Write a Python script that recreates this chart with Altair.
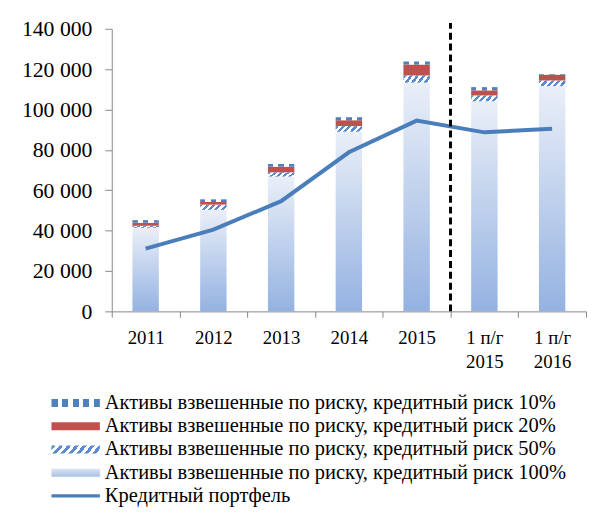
import altair as alt
import pandas as pd

# ---- data ----
cats = ["2011", "2012", "2013", "2014", "2015", "1 п/г\n2015", "1 п/г\n2016"]
risk100 = [41400, 50300, 66800, 89000, 113300, 104100, 111600]
risk50 = [1000, 2600, 2100, 2800, 3600, 2900, 2800]
risk20 = [1500, 1300, 2800, 2900, 5400, 2500, 2900]
risk10 = [1300, 1300, 1300, 1500, 1500, 1600, 300]
loans = [31100, 40500, 54600, 78800, 94500, 88700, 90500]
divider_after = "2015"
divider_top = 142900
y_ticks = [0, 20000, 40000, 60000, 80000, 100000, 120000, 140000]

legend_labels = [
    "Активы взвешенные по риску, кредитный риск 10%",
    "Активы взвешенные по риску, кредитный риск 20%",
    "Активы взвешенные по риску, кредитный риск 50%",
    "Активы взвешенные по риску, кредитный риск 100%",
    "Кредитный портфель",
]
legend_keys = ["10", "20", "50", "100", "loan"]

# ---- styles ----
FONT = "Liberation Serif"
AX = "#868686"
BLUE = "#4F81BD"
STRIPE50 = "#5A8AD0"
RED = "#C0504D"
LINE = "#4A7EBB"
WHITE = "#FFFFFF"


def seg_gradient(segments, x2, y2):
    total = float(sum(w for _, w in segments))
    stops = []
    pos = 0.0
    for c, w in segments:
        stops.append(alt.GradientStop(color=c, offset=round(pos / total, 4)))
        pos += w
        stops.append(alt.GradientStop(color=c, offset=round(min(pos / total, 1.0), 4)))
    return alt.Gradient(gradient="linear", stops=stops, x1=0, y1=0, x2=x2, y2=y2)


def diag(n, k, c):
    s = (1 + k) / (1 + k * k)
    segs = []
    for i in range(n):
        segs.append((c, 1))
        segs.append((WHITE, 1))
    return seg_gradient(segs, round(s, 4), round(s * k, 4))


grad100 = alt.Gradient(
    gradient="linear",
    stops=[alt.GradientStop(color="#EAEFF8", offset=0), alt.GradientStop(color="#94B2E1", offset=1)],
    x1=0, y1=0, x2=0, y2=1,
)
grad10 = seg_gradient([(BLUE, 1), (WHITE, 1), (BLUE, 1), (WHITE, 1), (BLUE, 1)], 1, 0)
grad50 = diag(5, 0.2, STRIPE50)

leg10 = seg_gradient([(BLUE, 6), (WHITE, 4), (BLUE, 6), (WHITE, 4), (BLUE, 6), (WHITE, 4), (BLUE, 6), (WHITE, 4), (BLUE, 6)], 1, 0)
leg50 = diag(7, 0.146, STRIPE50)
leg100 = alt.Gradient(
    gradient="linear",
    stops=[alt.GradientStop(color="#DCE5F4", offset=0), alt.GradientStop(color="#A9C1E8", offset=1)],
    x1=0, y1=0, x2=0, y2=1,
)

# ---- tables ----
rows = []
for i, c in enumerate(cats):
    for order, (key, vals) in enumerate([("100", risk100), ("50", risk50), ("20", risk20), ("10", risk10)]):
        rows.append({"cat": c, "series": key, "order": order, "value": vals[i]})
bars_df = pd.DataFrame(rows)
line_df = pd.DataFrame({"cat": cats, "loan": loans})
rule_df = pd.DataFrame({"cat": [divider_after], "y0": [0], "y1": [divider_top]})
leg_df = pd.DataFrame({"label": legend_labels, "key": legend_keys})

xaxis = alt.Axis(
    title=None, labelAngle=0, labelExpr="split(datum.label, '\\n')",
    labelFont=FONT, labelFontSize=19, labelColor="black", labelPadding=12,
    labelLineHeight=24, tickSize=6, tickColor=AX, domainColor=AX,
    tickBand="extent", grid=False,
)
xscale = alt.Scale(domain=cats, paddingInner=0, paddingOuter=0)
X = alt.X("cat:N", sort=cats, scale=xscale, axis=xaxis)

yaxis = alt.Axis(
    title=None, values=y_ticks,
    labelExpr="replace(format(datum.value, ','), ',', ' ')",
    labelFont=FONT, labelFontSize=22, labelColor="black", labelPadding=13,
    tickSize=7, tickColor=AX, domainColor=AX, grid=False,
)
yscale = alt.Scale(domain=[0, 140000], nice=False)

base = alt.Chart(bars_df).transform_stack(
    stack="value", groupby=["cat"], as_=["v0", "v1"],
    sort=[alt.SortField("order", order="ascending")],
)

bar_layers = []
for key, grad in [("100", grad100), ("50", grad50), ("20", RED), ("10", grad10)]:
    bar_layers.append(
        base.transform_filter(alt.datum.series == key)
        .mark_bar(fill=grad, width=alt.RelativeBandSize(0.39), strokeWidth=0)
        .encode(x=X, y=alt.Y("v0:Q", scale=yscale, axis=yaxis), y2="v1:Q")
    )

line = alt.Chart(line_df).mark_line(color=LINE, strokeWidth=4).encode(
    x=X, y=alt.Y("loan:Q", scale=yscale, axis=yaxis)
)

rule = alt.Chart(rule_df).mark_rule(color="black", strokeWidth=3, strokeDash=[7, 4]).encode(
    x=alt.X("cat:N", sort=cats, scale=xscale, axis=xaxis, bandPosition=1),
    y=alt.Y("y0:Q", scale=yscale, axis=yaxis),
    y2="y1:Q",
)

main = alt.layer(*bar_layers, line, rule).properties(width=480, height=286)

# ---- legend (offsets relative to the plot's left edge) ----
LY = alt.Y("label:N", sort=legend_labels, axis=None, scale=alt.Scale(paddingInner=0, paddingOuter=0))
leg_layers = []
for key, grad in [("10", leg10), ("20", RED), ("50", leg50), ("100", leg100)]:
    leg_layers.append(
        alt.Chart(leg_df).transform_filter(alt.datum.key == key)
        .mark_bar(fill=grad, height=8, strokeWidth=0)
        .encode(y=LY, x=alt.value(-61), x2=alt.value(-12))
    )
leg_line = alt.Chart(leg_df).transform_filter(alt.datum.key == "loan").mark_rule(
    color=LINE, strokeWidth=3.5
).encode(y=LY, x=alt.value(-61), x2=alt.value(-12))
leg_text = alt.Chart(leg_df).mark_text(
    align="left", baseline="middle", font=FONT, fontSize=20.7, color="black"
).encode(y=LY, x=alt.value(-7), text="label:N")

legend = alt.layer(*leg_layers, leg_line, leg_text).properties(width=470, height=117.5)

chart = (
    alt.vconcat(main, legend, spacing=20)
    .properties(padding={"left": 13, "top": 7, "right": 0, "bottom": 0})
    .configure_view(stroke=None)
)

chart.save("out.html", embed_options={"renderer": "svg", "actions": False})
